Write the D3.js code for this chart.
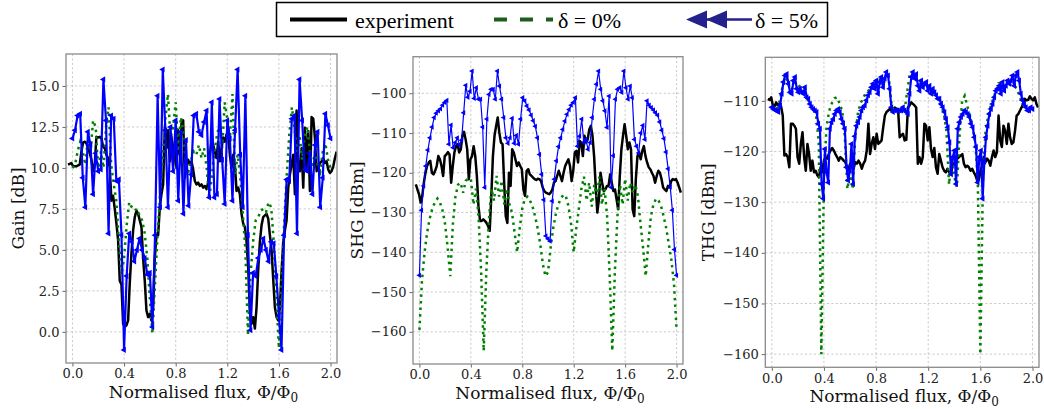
<!DOCTYPE html>
<html><head><meta charset="utf-8">
<script src="https://cdn.jsdelivr.net/npm/d3@7/dist/d3.min.js"></script>
<style>body{margin:0;background:#fff}svg{display:block}</style>
</head><body>
<script>
// ---------------- data ----------------
const fluxTicks = [0.0, 0.4, 0.8, 1.2, 1.6, 2.0];
const gainTicks = [0, 2.5, 5, 7.5, 10, 12.5, 15];
const shgTicks = [-160, -150, -140, -130, -120, -110, -100];
const thgTicks = [-160, -150, -140, -130, -120, -110];
const legendLabels = ["experiment", "δ = 0%", "δ = 5%"];

// flux span of each sampled series [start, end]
const expSpanGain = [-0.034, 2.047];
const expSpanSHG = [-0.028, 2.033];
const expSpanTHG = [-0.030, 2.043];
const simSpan = [0.0, 2.0];

// Gain [dB]
const gainExp = [10.2,10.25,10.3,10.1,10.1,10.1,10.15,10.2,11.0,11.55,
11.6,11.5,11.2,10.9,10.5,9.8,10.2,11.9,11.85,11.9,
11.8,11.3,11.2,10.8,10.6,10.0,8.0,8.3,7.5,6.6,
5.6,3.1,2.9,0.5,0.3,0.4,0.7,3.0,4.8,6.2,
7.0,7.4,7.2,6.8,6.4,4.5,3.1,1.3,0.9,1.1,
0.7,1.5,4.5,5.9,5.9,7.6,8.4,9.0,12.5,
11.2,12.3,10.4,11.9,10.2,11.6,10.0,12.3,10.8,12.7,12.9,
9.4,10.2,10.5,10.2,10.4,9.9,9.2,9.0,9.1,8.9,9.0,8.8,8.9,8.7,9.1,10.8,11.6,11.4,11.0,10.6,11.6,10.4,11.2,11.85,11.6,12.05,12.15,10.8,10.0,10.8,10.2,8.6,8.8,
8.4,7.2,6.6,6.4,5.5,3.9,1.2,0.5,0.9,0.2,1.5,3.8,5.5,
6.5,7.0,7.1,7.2,6.9,5.9,5.0,3.2,1.5,0.9,0.7,
1.5,3.7,5.5,6.2,6.8,8.8,9.6,10.2,10.8,8.4,13.5,10.2,9.8,11.2,8.8,12.45,9.8,12.25,8.6,13.1,13.0,11.85,9.8,10.0,10.3,10.4,10.6,10.3,10.4,9.9,9.7,9.8,10.1,10.6,11.0];
const gainD0 = [10.0,10.2,11.0,11.6,11.0,10.2,11.8,11.0,12.9,12.5,
9.8,11.0,10.0,12.5,13.7,10.2,9.0,8.0,5.5,3.5,
4.5,6.5,7.9,7.6,7.4,7.5,7.1,6.8,6.0,4.5,
2.0,-0.1,3.0,6.0,8.5,10.5,13.0,14.5,11.8,12.5,
14.0,11.0,13.1,12.2,10.0,9.8,10.5,11.0,10.8,11.4,
10.6,11.2,10.0,8.1,9.5,11.0,12.0,12.7,11.2,14.0,
13.0,11.8,14.5,9.6,10.8,9.5,7.2,5.0,-0.2,3.5,
5.5,6.8,7.0,7.4,7.5,7.3,7.9,7.6,5.5,2.0,
-1.0,3.0,6.5,9.5,12.0,13.7,12.5,11.0,12.0,10.5,
12.0,12.5,11.0,10.0,11.0,10.2,9.8,11.0,11.5,10.5,10.0];
const gainD5 = [11.8,12.3,13.2,13.3,9.4,7.6,12.2,11.4,8.4,10.9,
9.8,9.9,15.4,12.9,6.0,13.2,13.0,9.2,9.3,5.9,
-1.1,3.4,6.0,5.5,4.3,5.0,5.7,5.0,4.5,3.5,
3.6,0.3,5.9,14.4,7.6,16.0,12.3,7.6,12.5,9.8,
12.9,8.0,12.2,7.2,11.7,7.7,9.6,13.2,13.3,12.2,
12.0,12.8,13.5,8.2,14.0,8.2,8.4,14.2,10.5,7.8,
12.9,11.8,8.0,12.3,16.0,10.8,7.6,14.4,5.9,0.1,
3.6,3.4,4.5,5.0,5.7,5.0,4.3,5.5,5.4,3.4,
1.0,-1.1,5.9,9.3,9.2,13.0,13.2,6.0,15.4,12.9,
9.9,9.8,10.9,8.4,11.4,12.2,7.6,9.4,13.3,12.6,11.8];

// SHG [dBm]
const shgExp = [-122.9,-124.2,-125.4,-127.5,-125.8,-122.5,-120.0,-118.3,-117.4,-117.0,
-120.0,-120.4,-119.5,-118.3,-115.8,-116.6,-118.3,-120.8,-115.8,-115.4,
-114.8,-115.4,-122.5,-118.3,-114.9,-113.3,-112.8,-114.9,-114.1,-110.7,
-109.7,-111.6,-114.1,-121.6,-116.6,-115.8,-113.3,-115.8,-120.8,-128.4,
-132.1,-132.1,-131.7,-132.1,-132.6,-133.4,-134.6,-125.8,-115.8,-110.7,
-108.2,-106.1,-109.9,-112.4,-112.8,-122.5,-130.9,-132.6,-120.0,-123.3,
-114.1,-114.9,-116.6,-118.3,-117.4,-118.3,-119.1,-124.2,-125.8,-119.5,
-119.1,-120.4,-120.8,-121.2,-121.6,-121.8,-121.5,-121.6,-122.1,-123.7,
-124.6,-125.0,-125.2,-125.4,-125.0,-124.2,-122.5,-122.1,-120.8,-119.5,
-120.8,-122.1,-120.0,-118.3,-117.4,-116.6,-118.3,-122.1,-119.5,-114.9,
-114.5,-117.4,-112.0,-112.4,-115.8,-110.7,-112.4,-111.6,-109.1,-108.2,
-110.7,-115.8,-123.3,-130.0,-126.7,-120.0,-122.5,-124.6,-124.2,-123.3,
-123.3,-120.4,-122.5,-124.6,-124.2,-126.7,-129.2,-120.8,-114.1,-110.7,
-107.8,-110.7,-114.1,-112.4,-114.1,-129.2,-130.9,-121.6,-115.8,-114.9,
-116.6,-114.5,-113.3,-115.8,-117.4,-118.6,-119.1,-120.0,-120.8,-122.5,
-120.8,-119.5,-120.0,-121.6,-123.7,-124.2,-124.6,-123.3,-123.7,-122.1,
-121.6,-121.8,-121.6,-122.5,-123.7,-125.0];
const shgD0 = [-159.5,-147,-140,-135,-131.5,-129,-127.5,-126.5,-127.5,-129.5,
-133,-139,-146,-133,-126,-123,-122.5,-125,-122,-121.5,
-121.5,-128,-124,-131,-145,-164.8,-145,-132,-124,-127,
-120.8,-126,-122,-128,-124,-128,-130,-135,-140,-134,
-129,-126.5,-126,-127,-128.5,-131,-134,-138,-143,-146,
-145,-139,-134,-130.5,-128,-126.5,-125.5,-126,-128.5,-133,
-140,-134,-129,-124,-121,-127,-122.5,-128.5,-123,-126,
-121,-128,-124,-131,-146,-164.8,-145,-131,-123,-128,
-121.5,-127,-122.5,-125,-123,-126,-133,-139,-146,-138,
-131,-128,-126.5,-127,-128.5,-131,-134,-138,-142,-148,-159.5];
const shgD5 = [-145.8,-129.4,-123.3,-118.3,-114.3,-111.2,-108.5,-106.1,-105.0,-104.4,
-103.9,-103.0,-102.3,-101.8,-112.8,-108.0,-113.7,-112.4,-111.2,-113.0,
-111.8,-104.9,-98.0,-101.0,-99.5,-94.4,-101.3,-98.6,-101.5,-101.5,
-108.5,-123.7,-106.5,-100.3,-99.0,-99.0,-101.5,-94.4,-98.2,-101.5,
-106.1,-111.2,-112.6,-111.2,-106.3,-112.6,-110.6,-112.8,-106.5,-101.1,
-101.9,-103.2,-104.2,-105.5,-106.9,-108.3,-111.2,-115.4,-120.4,-126.8,
-135.9,-136.6,-137.2,-127.1,-121.6,-117.0,-113.4,-111.2,-109.1,-107.0,
-105.3,-104.1,-103.0,-102.3,-101.1,-113.3,-110.8,-106.5,-112.4,-111.6,
-114.1,-112.4,-106.1,-101.5,-97.7,-94.4,-99.0,-101.9,-104.4,-108.6,
-100.7,-123.7,-115.7,-101.5,-99.0,-98.6,-99.8,-94.4,-98.6,-101.5,
-98.2,-101.1,-111.6,-113.3,-115.0,-110.0,-108.1,-111.6,-101.9,-103.0,
-103.6,-104.2,-104.9,-105.5,-107.2,-109.3,-111.4,-114.8,-119.0,-123.6,
-129.4,-139.3,-145.8];

// THG [dBm]
const thgExp = [-109.6,-109.8,-109.3,-110.9,-111.1,-110.3,-110.9,-110.6,-111.1,-112.9,
-120.8,-120.5,-121.1,-123.1,-114.5,-114.5,-114.9,-115.5,-121.1,-122.4,
-118.5,-116.2,-121.1,-123.8,-118.5,-120.5,-123.8,-121.8,-124.1,-123.8,
-124.7,-125.1,-123.1,-124.1,-121.8,-121.1,-121.4,-120.5,-119.8,-119.3,
-119.8,-120.5,-121.1,-121.8,-121.1,-121.4,-121.8,-122.1,-123.1,-123.4,
-122.4,-123.1,-123.4,-122.1,-122.4,-121.8,-122.4,-123.4,-122.4,-121.8,
-119.8,-114.5,-120.5,-118.5,-117.2,-119.5,-116.5,-118.5,-118.2,-117.8,
-115.2,-112.9,-112.2,-111.9,-111.6,-111.9,-111.8,-111.3,-111.6,-111.6,
-117.2,-116.8,-116.5,-117.8,-117.7,-111.3,-110.9,-110.3,-110.6,-110.9,
-111.3,-122.4,-121.1,-122.4,-121.1,-114.5,-114.9,-117.8,-115.2,-119.5,
-121.1,-119.3,-123.1,-124.4,-120.5,-121.8,-123.1,-123.8,-124.1,-123.4,
-124.1,-124.4,-123.1,-122.4,-121.8,-121.4,-121.1,-120.8,-120.5,-122.4,
-123.1,-122.8,-123.1,-123.8,-123.4,-124.1,-124.7,-125.7,-125.7,-123.8,
-122.8,-121.1,-122.1,-121.4,-121.8,-122.8,-121.1,-119.8,-121.1,-120.1,
-112.9,-117.8,-119.1,-114.9,-115.9,-118.5,-114.5,-117.2,-118.5,-118.2,
-115.9,-112.9,-112.6,-111.9,-111.3,-110.6,-109.6,-109.9,-109.8,-109.1,
-109.6,-109.9,-109.3,-110.6,-111.3];
const thgD0 = [-111.3,-111.6,-111.8,-110.0,-107.5,-105.5,-106.0,-107.8,-107.5,-106.5,
-107.3,-107.0,-106.8,-108.5,-110.0,-110.8,-111.8,-113.0,-118.0,-160.0,
-125.0,-115.0,-112.0,-110.5,-109.5,-109.3,-110.5,-112.0,-117.0,-127.4,
-124.0,-127.4,-117.0,-112.5,-110.5,-109.5,-108.5,-108.0,-107.5,-107.0,
-106.0,-106.5,-105.0,-106.5,-104.5,-106.0,-111.0,-112.0,-112.0,-112.0,
-112.0,-111.5,-108.0,-104.5,-104.8,-105.5,-106.5,-106.0,-107.0,-107.0,
-107.5,-108.0,-108.5,-109.0,-110.0,-111.0,-112.5,-116.0,-126.5,-121.0,
-125.0,-127.0,-117.0,-110.0,-109.0,-111.0,-113.0,-115.0,-118.0,-125.0,
-160.0,-125.0,-116.0,-113.0,-111.0,-109.5,-108.0,-106.5,-106.5,-107.0,
-107.0,-106.5,-107.0,-107.0,-107.5,-109.0,-110.5,-111.0,-111.5,-111.8,-112.0];
const thgD5 = [-111.25,-111.6,-111.8,-112.0,-112.2,-110.9,-108.6,-106.3,-105.0,-104.7,
-106.6,-108.3,-108.6,-106.0,-105.3,-107.6,-108.3,-107.6,-108.3,-108.6,
-107.3,-109.3,-109.6,-110.6,-111.25,-111.6,-111.9,-112.2,
-114.5,-115.5,-126.4,-129.3,-119.5,-124.1,-126.1,-115.5,-114.2,
-113.6,-112.6,-111.9,-111.6,-112.2,-113.6,-114.5,-115.5,-123.1,-125.7,-123.8,-118.5,-126.4,
-117.0,-114.9,-114.2,-113.2,-111.9,-111.25,-110.9,-109.9,-108.9,-108.3,-107.3,-106.6,-107.6,-106.0,-108.6,-106.3,-105.3,-107.3,-105.6,-104.3,-105.0,-107.6,-111.25,
-112.2,-111.9,-111.9,-112.0,-111.9,-111.9,-111.25,-111.9,-112.2,-112.6,
-108.6,-105.3,-104.3,-105.6,-104.7,-107.0,-108.0,-106.0,-107.3,-106.6,-106.3,-108.0,-107.0,-108.6,-107.6,-108.3,-108.9,-109.6,-109.6,-110.6,-111.25,-112.2,-113.6,-115.2,-118.2,
-124.5,-121.1,-119.8,-126.4,-115.5,-114.2,-113.2,-112.6,-111.9,-112.2,-112.6,-113.2,-114.5,-115.2,-117.2,-119.1,-126.1,-121.1,-119.8,-129.3,
-122.0,-117.2,-114.9,-112.6,-111.6,-110.6,-109.3,-108.0,-107.6,-107.0,-108.6,-106.3,-108.0,-107.0,-106.0,-106.6,-106.0,-105.0,-107.0,-105.0,-104.3,-106.0,-108.6,-109.9,-110.6,-111.25,-111.9,-111.9,-111.25,-111.6];

// ---------------- drawing ----------------
const W = 1044, H = 409;
const svg = d3.select("body").append("svg").attr("width", W).attr("height", H);
svg.append("rect").attr("width", W).attr("height", H).attr("fill", "#fff");

const serif = "'DejaVu Serif', serif";
const xDomain = [-0.05, 2.05];
const C = {exp: "#000000", d0: "#008000", d5: "#0000ff"};

function pts(values, span) {
  const n = values.length;
  return values.map((v, i) => [span[0] + (span[1] - span[0]) * i / (n - 1), v]);
}

const panels = [
  {box: {l: 66, r: 337, t: 54, b: 363}, yDomain: [-1.9, 16.95], yTicks: gainTicks, fmt: d3.format(".1f"),
   label: "Gain [dB]", labelX: 18, exp: gainExp, expSpan: expSpanGain, d0: gainD0, d5: gainD5, blueW: 2.2, mk: 16},
  {box: {l: 413, r: 683, t: 56.7, b: 364}, yDomain: [-168.1, -90.8], yTicks: shgTicks, fmt: d3.format("d"),
   label: "SHG [dBm]", labelX: 357, exp: shgExp, expSpan: expSpanSHG, d0: shgD0, d5: shgD5, blueW: 1.2, mk: 12},
  {box: {l: 765.3, r: 1039, t: 57.3, b: 367.3}, yDomain: [-162.6, -101.4], yTicks: thgTicks, fmt: d3.format("d"),
   label: "THG [dBm]", labelX: 708, exp: thgExp, expSpan: expSpanTHG, d0: thgD0, d5: thgD5, blueW: 2.2, mk: 16}
];

panels.forEach(p => {
  const b = p.box;
  const x = d3.scaleLinear().domain(xDomain).range([b.l, b.r]);
  const y = d3.scaleLinear().domain(p.yDomain).range([b.b, b.t]);
  const g = svg.append("g");

  // grid
  const grid = g.append("g").attr("stroke", "#bdbdbd").attr("stroke-width", 0.8).attr("stroke-dasharray", "2.2,2.2");
  fluxTicks.forEach(t => grid.append("line").attr("x1", x(t)).attr("x2", x(t)).attr("y1", b.t).attr("y2", b.b));
  p.yTicks.forEach(t => grid.append("line").attr("x1", b.l).attr("x2", b.r).attr("y1", y(t)).attr("y2", y(t)));

  // axes (ticks + labels)
  const xAxis = d3.axisBottom(x).tickValues(fluxTicks).tickFormat(d3.format(".1f")).tickSize(3.5).tickPadding(2.5);
  const yAxis = d3.axisLeft(y).tickValues(p.yTicks).tickFormat(p.fmt).tickSize(3.5).tickPadding(3);
  const gx = g.append("g").attr("transform", `translate(0,${b.b})`).call(xAxis);
  const gy = g.append("g").attr("transform", `translate(${b.l},0)`).call(yAxis);
  [gx, gy].forEach(a => {
    a.select(".domain").remove();
    a.selectAll(".tick line").attr("stroke", "#555").attr("stroke-width", 0.9);
    a.selectAll(".tick text").attr("font-family", serif).attr("font-size", 13).attr("fill", "#222");
  });

  // clip
  const cid = "clip" + Math.round(b.l);
  g.append("clipPath").attr("id", cid).append("rect")
    .attr("x", b.l).attr("y", b.t).attr("width", b.r - b.l).attr("height", b.b - b.t);
  const plot = g.append("g").attr("clip-path", `url(#${cid})`);
  const line = d3.line().x(d => x(d[0])).y(d => y(d[1]));

  const dExp = pts(p.exp, p.expSpan), d0 = pts(p.d0, simSpan), d5 = pts(p.d5, simSpan);
  plot.append("path").attr("d", line(dExp)).attr("fill", "none").attr("stroke", C.exp)
    .attr("stroke-width", 2.5).attr("stroke-linejoin", "round");
  plot.append("path").attr("d", line(d0)).attr("fill", "none").attr("stroke", C.d0)
    .attr("stroke-width", 2.5).attr("stroke-dasharray", "2.5,4.1");
  plot.append("path").attr("d", line(d5)).attr("fill", "none").attr("stroke", C.d5)
    .attr("stroke-width", p.blueW).attr("stroke-linejoin", "round");
  const sym = d3.symbol().type(d3.symbolTriangle).size(p.mk);
  plot.selectAll(".mk").data(d5).enter().append("path")
    .attr("d", sym).attr("fill", C.d5)
    .attr("transform", d => `translate(${x(d[0])},${y(d[1])}) rotate(-90)`);

  // frame
  g.append("rect").attr("x", b.l).attr("y", b.t).attr("width", b.r - b.l).attr("height", b.b - b.t)
    .attr("fill", "none").attr("stroke", "#8a8a8a").attr("stroke-width", 1.3);

  // axis titles
  const cx = (b.l + b.r) / 2 + 2;
  const xl = g.append("text").attr("x", cx).attr("y", b.b + 35).attr("text-anchor", "middle")
    .attr("font-family", serif).attr("font-size", 17).attr("fill", "#111");
  xl.append("tspan").text("Normalised flux, Φ/Φ");
  xl.append("tspan").attr("font-size", 12).attr("dy", 4).text("0");
  g.append("text").attr("transform", `translate(${p.labelX},${(b.t + b.b) / 2}) rotate(-90)`)
    .attr("text-anchor", "middle").attr("dominant-baseline", "central")
    .attr("font-family", serif).attr("font-size", 17).attr("fill", "#111").text(p.label);
});

// ---------------- legend ----------------
const lg = svg.append("g");
const lfont = "'Liberation Serif', 'Times New Roman', serif";
lg.append("rect").attr("x", 276.5).attr("y", 2.5).attr("width", 551).attr("height", 34)
  .attr("fill", "#fff").attr("stroke", "#000").attr("stroke-width", 1.5);
const ly = 19.5;
lg.append("line").attr("x1", 290).attr("x2", 347).attr("y1", ly).attr("y2", ly)
  .attr("stroke", "#000").attr("stroke-width", 4);
lg.append("line").attr("x1", 494).attr("x2", 553).attr("y1", ly).attr("y2", ly)
  .attr("stroke", "#1d5e1d").attr("stroke-width", 4).attr("stroke-dasharray", "13,13");
const navy = "#24208c";
lg.append("line").attr("x1", 690).attr("x2", 752).attr("y1", ly).attr("y2", ly)
  .attr("stroke", navy).attr("stroke-width", 2.5);
[686, 706].forEach(tip => {
  lg.append("path").attr("d", `M${tip},${ly} L${tip + 21},${ly - 9} L${tip + 21},${ly + 9} Z`).attr("fill", navy);
});
const textX = [355, 558, 755];
legendLabels.forEach((t, i) => {
  lg.append("text").attr("x", textX[i]).attr("y", 27.5).attr("font-family", lfont)
    .attr("font-size", 22).attr("fill", "#000").text(t);
});
</script>
</body></html>
